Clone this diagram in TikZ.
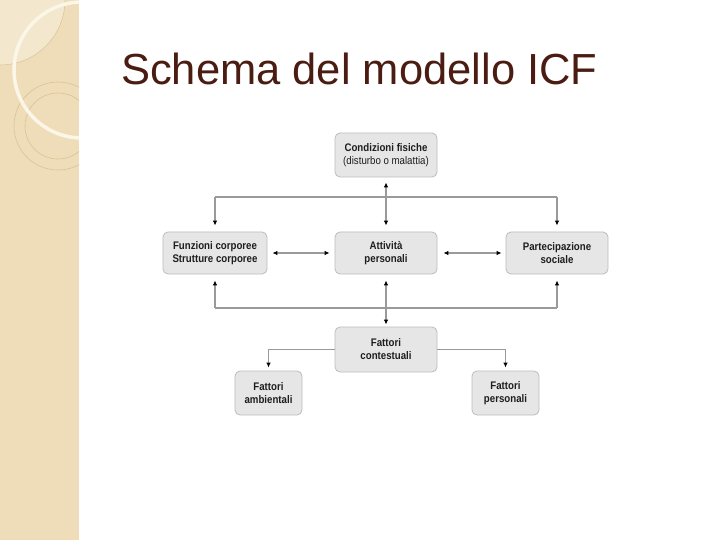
\documentclass[tikz,border=0pt]{standalone}
\usepackage{fontspec}
\setmainfont{Liberation Sans}
\newfontfamily\boxfont[FakeStretch=0.88]{Liberation Sans}
\usetikzlibrary{arrows.meta}
\definecolor{stripe}{HTML}{EEDDB8}
\definecolor{lightq}{HTML}{F3E7CE}
\definecolor{ringline}{HTML}{D8C393}
\definecolor{whitearc}{HTML}{FBF6E8}
\definecolor{titlecol}{HTML}{4A1C12}
\definecolor{boxfill}{HTML}{E6E6E6}
\definecolor{boxline}{HTML}{BDBDBD}
\definecolor{boxtext}{HTML}{1E1E1E}
\definecolor{linegray}{HTML}{9A9A9A}
\begin{document}
\begin{tikzpicture}[x=1bp,y={(0bp,-1bp)},
  >={Latex[length=5bp,width=4.5bp,color=black]},
  box/.style={draw=boxline, fill=boxfill, rounded corners=5bp, line width=0.8bp,
    minimum width=102bp, minimum height=43bp, inner sep=0pt, align=center,
    font=\boxfont\bfseries\fontsize{11bp}{13bp}\selectfont, text=boxtext},
  smallbox/.style={box, minimum width=67bp, minimum height=44bp},
  conn/.style={draw=linegray, line width=1.1bp}]
\useasboundingbox (0,0) rectangle (720,540);
\fill[white] (0,0) rectangle (720,540);
% decorative stripe
\fill[stripe] (0,0) rectangle (79,540);
\begin{scope}
  \clip (0,0) rectangle (79,540);
  \fill[lightq] (0,0) circle[radius=65];
  \draw[ringline, line width=0.5bp] (0,0) circle[radius=65];
  \draw[ringline, line width=0.6bp] (58,126) circle[radius=44];
  \draw[ringline, line width=0.6bp] (58,126) circle[radius=33];
  \draw[whitearc, line width=3.5bp] (82,70) circle[radius=68];
\end{scope}
% title
\node[anchor=base west, inner sep=0pt, text=titlecol,
  font=\fontsize{43.5bp}{50bp}\selectfont] (title) at (121,85) {Schema del modello ICF};
% boxes
\node[box, minimum height=44bp] (cf) at (386,155) {Condizioni fisiche\\\mdseries(disturbo o malattia)};
\node[box, minimum width=104bp, minimum height=42bp] (fun) at (215,253) {Funzioni corporee\\Strutture corporee};
\node[box, minimum height=42bp] (att) at (386,253) {Attività\\personali};
\node[box, minimum height=42bp] (par) at (557,253) {Partecipazione\\sociale};
\node[box, minimum height=45bp] (ctx) at (386,349.5) {Fattori\\contestuali};
\node[smallbox] (amb) at (268.5,393) {Fattori\\ambientali};
\node[smallbox] (per) at (505.5,393) {Fattori\\personali};
% connectors
\draw[conn,<->,shorten <=5bp,shorten >=6bp] (cf.south) -- (att.north);
\coordinate (tl) at (215,197);
\coordinate (tr) at (557,197);
\draw[conn] (tl) -- (tr);
\draw[conn,->,shorten >=6bp] (tl) -- (fun.north);
\draw[conn,->,shorten >=6bp] (tr) -- (par.north);
\draw[conn,<->,shorten <=5bp,shorten >=5bp] (fun.east) -- (att.west);
\draw[conn,<->,shorten <=6bp,shorten >=4bp] (att.east) -- (par.west);
\coordinate (bl) at (215,308);
\coordinate (bc) at (386,308);
\coordinate (br) at (557,308);
\draw[conn] (bl) -- (br);
\draw[conn,->,shorten >=6bp] (bl) -- (fun.south);
\draw[conn,->,shorten >=6bp] (bc) -- (att.south);
\draw[conn,->,shorten >=6bp] (br) -- (par.south);
\draw[conn,->,shorten >=2bp] (bc) -- (ctx.north);
\draw[conn,->,shorten >=3bp] (ctx.west) -| (amb.north);
\draw[conn,->,shorten >=3bp] (ctx.east) -| (per.north);
\end{tikzpicture}
\end{document}
